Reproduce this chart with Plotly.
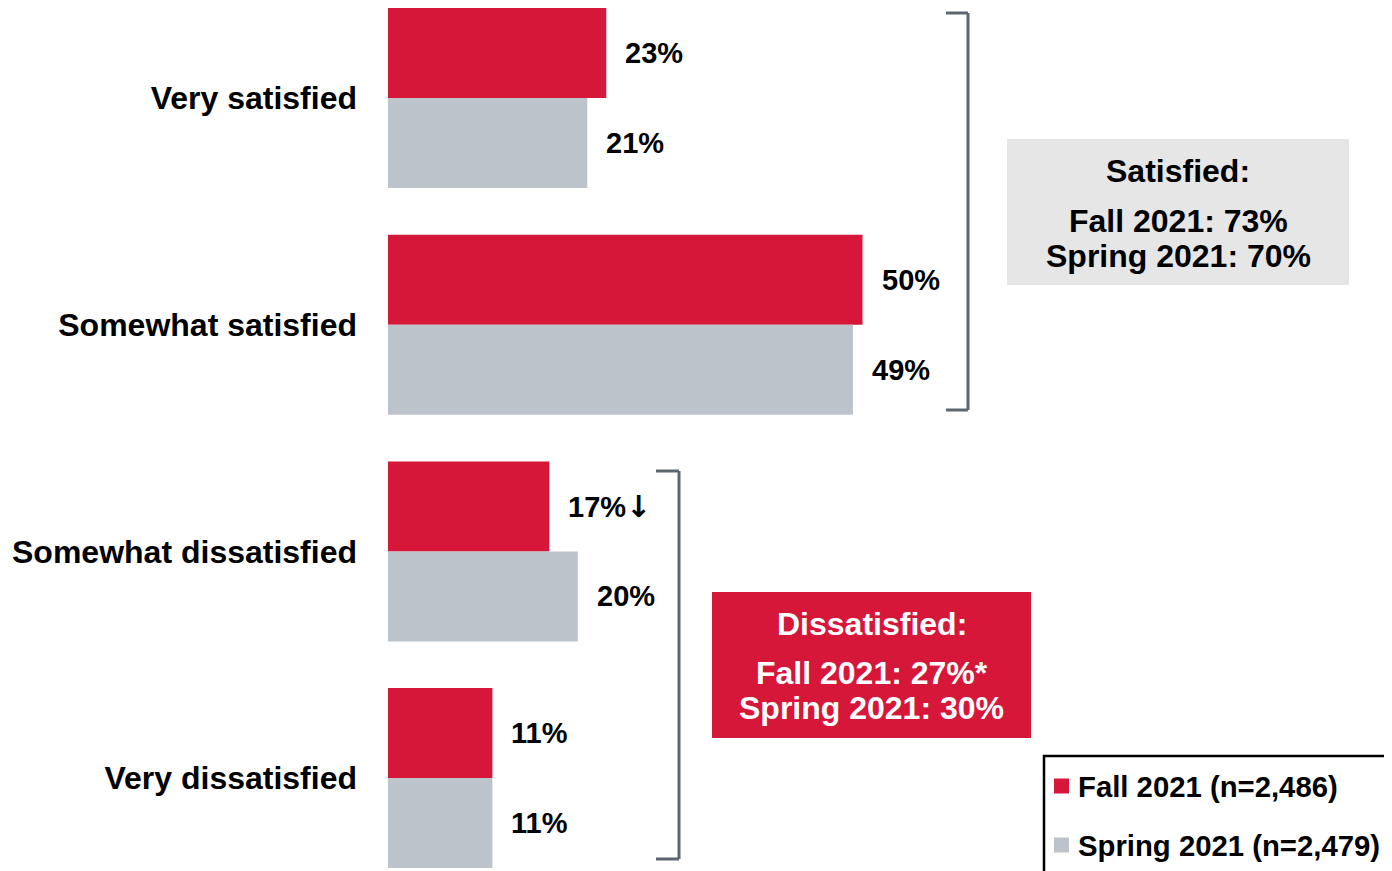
import plotly.graph_objects as go

# ---- data ----
categories = ["Very satisfied", "Somewhat satisfied", "Somewhat dissatisfied", "Very dissatisfied"]
fall_2021 = [23, 50, 17, 11]
spring_2021 = [21, 49, 20, 11]
fall_labels = ["23%", "50%", "17%<span style='font-family:DejaVu Sans;font-size:30px'>\u2193</span>", "11%"]
spring_labels = ["21%", "49%", "20%", "11%"]
series_names = ["Fall 2021 (n=2,486)", "Spring 2021 (n=2,479)"]
satisfied_box = ["Satisfied:", "Fall 2021: 73%", "Spring 2021: 70%"]
dissatisfied_box = ["Dissatisfied:", "Fall 2021: 27%*", "Spring 2021: 30%"]

RED = "#D6173A"
GRAY = "#BDC3CA"
BRACKET = "#5B6670"
FONT = "Liberation Sans, Arial, sans-serif"

W_PX, H_PX = 1392, 871
OFF = 8          # page body margin
L = 388 - OFF
PW = W_PX - L


def fx(px):
    return (px - OFF - L) / PW


def fy(py):
    return 1 - (py - OFF) / H_PX


fig = go.Figure()
fig.add_trace(go.Bar(y=categories, x=fall_2021, orientation="h", name=series_names[0],
                     marker=dict(color=RED, line=dict(width=0)), showlegend=False,
                     hoverinfo="x"))
fig.add_trace(go.Bar(y=categories, x=spring_2021, orientation="h", name=series_names[1],
                     marker=dict(color=GRAY, line=dict(width=0)), showlegend=False,
                     hoverinfo="x"))

annotations = []
for cat, v, lab in zip(categories, fall_2021, fall_labels):
    annotations.append(dict(x=v, y=cat, xref="x", yref="y", text=lab, showarrow=False,
                            xanchor="left", yanchor="middle", xshift=17, yshift=45,
                            font=dict(family=FONT, size=29, color="black", weight="bold")))
for cat, v, lab in zip(categories, spring_2021, spring_labels):
    annotations.append(dict(x=v, y=cat, xref="x", yref="y", text=lab, showarrow=False,
                            xanchor="left", yanchor="middle", xshift=17, yshift=-45,
                            font=dict(family=FONT, size=29, color="black", weight="bold")))

shapes = []


def bracket(x_v, y_top, y_bot, x_tick):
    kw = dict(type="line", xref="paper", yref="paper", line=dict(color=BRACKET, width=3))
    shapes.append(dict(x0=fx(x_v), x1=fx(x_v), y0=fy(y_top), y1=fy(y_bot), **kw))
    shapes.append(dict(x0=fx(x_tick), x1=fx(x_v), y0=fy(y_top), y1=fy(y_top), **kw))
    shapes.append(dict(x0=fx(x_tick), x1=fx(x_v), y0=fy(y_bot), y1=fy(y_bot), **kw))


bracket(968, 13, 410, 946)
bracket(679, 471, 859, 656)

shapes.append(dict(type="rect", xref="paper", yref="paper", x0=fx(1007), x1=fx(1349),
                   y0=fy(285), y1=fy(139), fillcolor="#E6E6E6", line=dict(width=0), layer="below"))
shapes.append(dict(type="rect", xref="paper", yref="paper", x0=fx(712), x1=fx(1031),
                   y0=fy(738), y1=fy(592), fillcolor=RED, line=dict(width=0), layer="below"))

for text, py in zip(satisfied_box, [171, 221, 256]):
    annotations.append(dict(x=fx(1178), y=fy(py), xref="paper", yref="paper", text=text,
                            showarrow=False, xanchor="center", yanchor="middle",
                            font=dict(family=FONT, size=32, color="black", weight="bold")))
for text, py in zip(dissatisfied_box, [624, 673, 708]):
    annotations.append(dict(x=fx(871.5), y=fy(py), xref="paper", yref="paper", text=text,
                            showarrow=False, xanchor="center", yanchor="middle",
                            font=dict(family=FONT, size=32, color="white", weight="bold")))

# custom legend
shapes.append(dict(type="rect", xref="paper", yref="paper", x0=fx(1044), x1=fx(1386),
                   y0=fy(890), y1=fy(756), fillcolor="rgba(0,0,0,0)",
                   line=dict(color="black", width=2.5)))
for name, col, py in zip(series_names, [RED, GRAY], [786, 845]):
    shapes.append(dict(type="rect", xref="paper", yref="paper", x0=fx(1054), x1=fx(1069),
                       y0=fy(py + 7.5), y1=fy(py - 7.5), fillcolor=col, line=dict(width=0)))
    annotations.append(dict(x=fx(1076), y=fy(py), xref="paper", yref="paper", text=name,
                            showarrow=False, xanchor="left", yanchor="middle",
                            font=dict(family=FONT, size=29.3, color="black", weight="bold")))

px_per_pct = 9.49
cat_step = 226.7
first_center = 98 - OFF

fig.update_layout(
    width=W_PX, height=H_PX,
    margin=dict(l=L, r=0, t=0, b=0, pad=0),
    paper_bgcolor="white", plot_bgcolor="white",
    barmode="group", bargap=0.206, bargroupgap=0,
    shapes=shapes, annotations=annotations,
    xaxis=dict(range=[0, PW / px_per_pct], visible=False, showgrid=False, zeroline=False),
    yaxis=dict(
        type="category",
        range=[(H_PX - first_center) / cat_step, -first_center / cat_step],
        showgrid=False, zeroline=False, showline=False, ticks="",
        ticklabelstandoff=30,
        tickfont=dict(family=FONT, size=32, color="black", weight="bold"),
    ),
    showlegend=False,
)

fig.write_html("out.html")
